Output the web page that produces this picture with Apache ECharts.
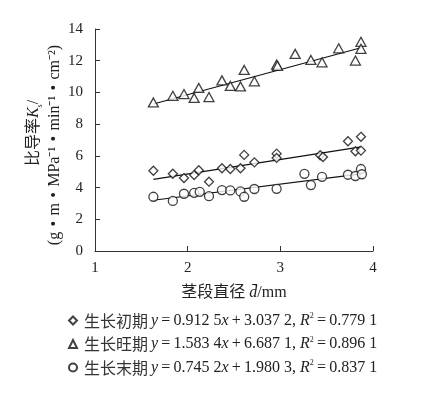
<!DOCTYPE html>
<html>
<head>
    <meta charset="utf-8">
    <title>比导率与茎段直径</title>
    <script src="https://cdn.jsdelivr.net/npm/echarts@6/dist/echarts.min.js"></script>
    <style>
        html, body { margin: 0; padding: 0; background: #fff; }
        #chart { width: 426px; height: 397px; }
    </style>
</head>
<body>
<div id="chart"></div>
<script type="text/javascript">
    // 三个生长期名称
    var stages = ['生长初期', '生长旺期', '生长末期'];
    var symbols = ['diamond', 'triangle', 'circle'];

    // 散点数据 [茎段直径, 比导率]
    var earlyPts = [
        [1.63, 5.06], [1.84, 4.87], [1.96, 4.60], [2.07, 4.79], [2.12, 5.09],
        [2.23, 4.37], [2.37, 5.22], [2.46, 5.17], [2.57, 5.22], [2.61, 6.06],
        [2.72, 5.59], [2.96, 6.14], [2.96, 5.87], [3.43, 6.04], [3.46, 5.93],
        [3.73, 6.92], [3.81, 6.29], [3.87, 7.20], [3.87, 6.33]
    ];
    var peakPts = [
        [1.63, 9.37], [1.84, 9.79], [1.96, 9.90], [2.07, 9.65], [2.12, 10.28],
        [2.23, 9.71], [2.37, 10.76], [2.46, 10.41], [2.57, 10.38], [2.61, 11.42],
        [2.72, 10.70], [2.96, 11.75], [2.97, 11.68], [3.16, 12.43], [3.33, 12.05],
        [3.45, 11.90], [3.63, 12.78], [3.81, 12.01], [3.87, 13.19], [3.87, 12.75]
    ];
    var latePts = [
        [1.63, 3.42], [1.84, 3.16], [1.96, 3.61], [2.07, 3.67], [2.13, 3.73],
        [2.23, 3.46], [2.37, 3.84], [2.46, 3.82], [2.57, 3.76], [2.61, 3.42],
        [2.72, 3.91], [2.96, 3.92], [3.26, 4.87], [3.33, 4.16], [3.45, 4.68],
        [3.73, 4.81], [3.81, 4.73], [3.87, 5.17], [3.88, 4.84]
    ];

    // 回归线两端点
    var earlyFit = [[1.63, 4.52], [3.87, 6.57]];
    var peakFit = [[1.63, 9.27], [3.87, 12.82]];
    var lateFit = [[1.63, 3.20], [3.87, 4.86]];

    // 回归方程文字
    var slopeText = ['0.912 5', '1.583 4', '0.745 2'];
    var interceptText = ['3.037 2', '6.687 1', '1.980 3'];
    var r2Text = ['0.779 1', '0.896 1', '0.837 1'];

    var xTicks = [1, 2, 3, 4];
    var yTicks = [0, 14, 2];

    var serif = '"Liberation Serif", "Times New Roman", "Noto Sans CJK SC", serif';
    var txtColor = '#222';
    var ts = '\u2009'; // 细空格

    var myChart = echarts.init(document.getElementById('chart'));

    var pts = [earlyPts, peakPts, latePts];
    var fits = [earlyFit, peakFit, lateFit];
    var series = [];
    for (var i = 0; i < 3; i++) {
        series.push({
            name: stages[i],
            type: 'scatter',
            data: pts[i],
            symbol: symbols[i],
            symbolSize: i === 1 ? [10, 9] : 9,
            itemStyle: { color: '#fff', borderColor: '#111', borderWidth: 1.3 },
            z: 3
        });
    }
    for (var j = 0; j < 3; j++) {
        series.push({
            name: stages[j] + '拟合',
            type: 'line',
            data: fits[j],
            symbol: 'none',
            lineStyle: { color: '#111', width: 1.2 },
            z: 2,
            silent: true
        });
    }

    var eqIdx = {};
    stages.forEach(function (s, k) { eqIdx[s] = k; });

    var dot = ' \u200A•\u200A ';

    myChart.setOption({
        animation: false,
        backgroundColor: '#fff',
        grid: { left: 95, right: 53, top: 29, bottom: 146 },
        xAxis: {
            type: 'value',
            min: xTicks[0],
            max: xTicks[xTicks.length - 1],
            interval: 1,
            axisLine: { lineStyle: { color: '#333', width: 1 } },
            axisTick: { inside: true, length: 5, lineStyle: { color: '#333' } },
            axisLabel: { color: txtColor, fontFamily: serif, fontSize: 15, margin: 10 },
            splitLine: { show: false },
            name: '茎段直径 {d|d\u0304}/mm',
            nameLocation: 'middle',
            nameGap: 34,
            nameTextStyle: {
                color: txtColor, fontFamily: serif, fontSize: 16,
                rich: { d: { fontFamily: serif, fontStyle: 'italic', fontSize: 16, color: txtColor } }
            }
        },
        yAxis: {
            type: 'value',
            min: yTicks[0],
            max: yTicks[1],
            interval: yTicks[2],
            axisLine: { show: true, lineStyle: { color: '#333', width: 1 } },
            axisTick: { show: true, inside: true, length: 5, lineStyle: { color: '#333' } },
            axisLabel: { color: txtColor, fontFamily: serif, fontSize: 15, margin: 12 },
            splitLine: { show: false },
            name: '{c|比导率}{i|K}{sub|s}/\n(g' + dot + 'm' + dot + 'MPa⁻¹' + dot + 'min⁻¹' + dot + 'cm⁻²)',
            nameLocation: 'middle',
            nameRotate: 90,
            nameGap: 30,
            nameMoveOverlap: false,
            nameTextStyle: {
                color: txtColor, fontFamily: serif, fontSize: 16, lineHeight: 21, align: 'center',
                padding: [0, 10, 0, 0],
                rich: {
                    c: { fontFamily: serif, fontSize: 16, color: txtColor, lineHeight: 21, padding: [0, 0, 0, 24] },
                    i: { fontStyle: 'italic', fontFamily: serif, fontSize: 16, color: txtColor, lineHeight: 21 },
                    sub: { fontFamily: serif, fontSize: 8, color: txtColor, verticalAlign: 'bottom', lineHeight: 21, padding: [6, 0, 0, 0] }
                }
            }
        },
        legend: {
            data: stages,
            orient: 'vertical',
            left: 68,
            top: 312,
            padding: 0,
            itemWidth: 8,
            itemHeight: 8,
            itemGap: 7,
            textStyle: {
                color: txtColor, fontFamily: serif, fontSize: 16,
                rich: {
                    n: { fontFamily: serif, fontSize: 16, color: txtColor, lineHeight: 17 },
                    it: { fontFamily: serif, fontStyle: 'italic', fontSize: 16, color: txtColor, lineHeight: 17 },
                    sup: { fontFamily: serif, fontSize: 8, color: txtColor, verticalAlign: 'top', padding: [0, 0, 8, 0] },
                    cn: { fontFamily: '"Noto Sans CJK SC", sans-serif', fontSize: 16, color: '#333', padding: [0, 3, 0, 2], lineHeight: 17 }
                }
            },
            formatter: function (name) {
                var k = eqIdx[name];
                return '{cn|' + name + '}{it|y}{n|' + ts + '=' + ts + slopeText[k] + '}{it|x}{n|' + ts + '+' + ts +
                    interceptText[k] + ', }{it|R}{sup|2}{n|' + ts + '=' + ts + r2Text[k] + '}';
            },
            itemStyle: { color: '#fff', borderColor: '#111', borderWidth: 2 }
        },
        series: series
    });
</script>
</body>
</html>
